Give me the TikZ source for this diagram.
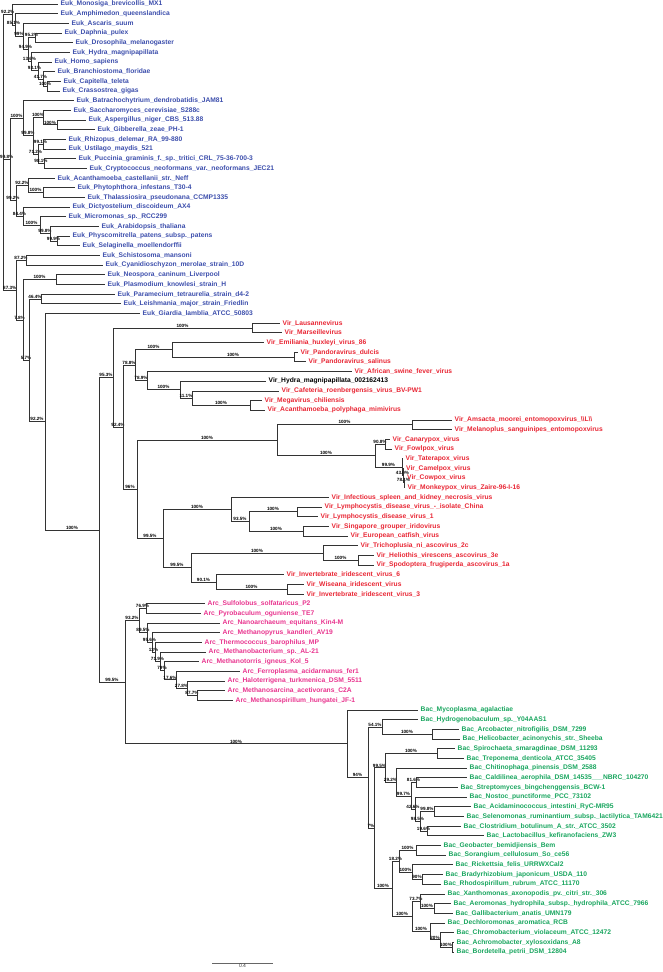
\documentclass[tikz,border=0pt]{standalone}
\usepackage{fontspec}
\setmainfont{Liberation Sans}
\usetikzlibrary{calc}
\definecolor{eukblue}{RGB}{60,78,172}
\definecolor{virred}{RGB}{232,38,52}
\definecolor{arcpink}{RGB}{232,52,142}
\definecolor{bacgreen}{RGB}{24,165,94}
\tikzset{
	branch/.style={line width=0.85pt, black!80},
	boot/.style={pos=0.75, above, inner sep=0.4pt, text=black, font=\fontsize{4.6}{5}\selectfont\bfseries},
	taxon/.style={anchor=west, inner xsep=2.5pt, inner ysep=0pt, font=\fontsize{6.7}{8}\selectfont\bfseries},
	euk/.style={taxon, text=eukblue},
	vir/.style={taxon, text=virred},
	arc/.style={taxon, text=arcpink},
	bac/.style={taxon, text=bacgreen},
	hydra/.style={taxon, text=black},
	scalebar/.style={line width=0.7pt, black!60}
}
% tip: name, row, x of branch end, style, label
\newcommand{\tip}[5]{\coordinate (#1) at (#3,{4+9.673*#2}); \node[#4] (#1t) at (#1) {#5};}
% clade: name, x, first child, last child
\newcommand{\clade}[4]{\path let \p1=(#3), \p2=(#4) in coordinate (#1) at (#2,{0.5*(\y1+\y2)});}

\begin{document}
\begin{tikzpicture}[x=1pt, y=-1pt]
\useasboundingbox (0,0) rectangle (663,972);
% Eukaryotes
\tip{e0}{0}{58}{euk}{Euk\_Monosiga\_brevicollis\_MX1}
\tip{e1}{1}{58}{euk}{Euk\_Amphimedon\_queenslandica}
\tip{e2}{2}{69}{euk}{Euk\_Ascaris\_suum}
\tip{e3}{3}{62}{euk}{Euk\_Daphnia\_pulex}
\tip{e4}{4}{73}{euk}{Euk\_Drosophila\_melanogaster}
\tip{e5}{5}{70}{euk}{Euk\_Hydra\_magnipapillata}
\tip{e6}{6}{52}{euk}{Euk\_Homo\_sapiens}
\tip{e7}{7}{55}{euk}{Euk\_Branchiostoma\_floridae}
\tip{e8}{8}{61}{euk}{Euk\_Capitella\_teleta}
\tip{e9}{9}{60}{euk}{Euk\_Crassostrea\_gigas}
\tip{e10}{10}{74}{euk}{Euk\_Batrachochytrium\_dendrobatidis\_JAM81}
\tip{e11}{11}{71}{euk}{Euk\_Saccharomyces\_cerevisiae\_S288c}
\tip{e12}{12}{86}{euk}{Euk\_Aspergillus\_niger\_CBS\_513.88}
\tip{e13}{13}{95}{euk}{Euk\_Gibberella\_zeae\_PH-1}
\tip{e14}{14}{66}{euk}{Euk\_Rhizopus\_delemar\_RA\_99-880}
\tip{e15}{15}{66}{euk}{Euk\_Ustilago\_maydis\_521}
\tip{e16}{16}{76}{euk}{Euk\_Puccinia\_graminis\_f.\_sp.\_tritici\_CRL\_75-36-700-3}
\tip{e17}{17}{87}{euk}{Euk\_Cryptococcus\_neoformans\_var.\_neoformans\_JEC21}
\tip{e18}{18}{55}{euk}{Euk\_Acanthamoeba\_castellanii\_str.\_Neff}
\tip{e19}{19}{75}{euk}{Euk\_Phytophthora\_infestans\_T30-4}
\tip{e20}{20}{85}{euk}{Euk\_Thalassiosira\_pseudonana\_CCMP1335}
\tip{e21}{21}{70}{euk}{Euk\_Dictyostelium\_discoideum\_AX4}
\tip{e22}{22}{66}{euk}{Euk\_Micromonas\_sp.\_RCC299}
\tip{e23}{23}{99}{euk}{Euk\_Arabidopsis\_thaliana}
\tip{e24}{24}{70}{euk}{Euk\_Physcomitrella\_patens\_subsp.\_patens}
\tip{e25}{25}{80}{euk}{Euk\_Selaginella\_moellendorffii}
\tip{e26}{26}{100}{euk}{Euk\_Schistosoma\_mansoni}
\tip{e27}{27}{103}{euk}{Euk\_Cyanidioschyzon\_merolae\_strain\_10D}
\tip{e28}{28}{105}{euk}{Euk\_Neospora\_caninum\_Liverpool}
\tip{e29}{29}{105}{euk}{Euk\_Plasmodium\_knowlesi\_strain\_H}
\tip{e30}{30}{115}{euk}{Euk\_Paramecium\_tetraurelia\_strain\_d4-2}
\tip{e31}{31}{121}{euk}{Euk\_Leishmania\_major\_strain\_Friedlin}
\tip{e32}{32}{140}{euk}{Euk\_Giardia\_lamblia\_ATCC\_50803}
% Viruses
\tip{v33}{33}{280}{vir}{Vir\_Lausannevirus}
\tip{v34}{34}{282}{vir}{Vir\_Marseillevirus}
\tip{v35}{35}{264}{vir}{Vir\_Emiliania\_huxleyi\_virus\_86}
\tip{v36}{36}{298}{vir}{Vir\_Pandoravirus\_dulcis}
\tip{v37}{37}{306}{vir}{Vir\_Pandoravirus\_salinus}
\tip{v38}{38}{352}{vir}{Vir\_African\_swine\_fever\_virus}
\tip{v39}{39}{266}{hydra}{Vir\_Hydra\_magnipapillata\_002162413}
\tip{v40}{40}{279}{vir}{Vir\_Cafeteria\_roenbergensis\_virus\_BV-PW1}
\tip{v41}{41}{262}{vir}{Vir\_Megavirus\_chiliensis}
\tip{v42}{42}{265}{vir}{Vir\_Acanthamoeba\_polyphaga\_mimivirus}
\tip{v43}{43}{452}{vir}{Vir\_Amsacta\_moorei\_entomopoxvirus\_\textbackslash\textbackslash L\textbackslash\textbackslash}
\tip{v44}{44}{452}{vir}{Vir\_Melanoplus\_sanguinipes\_entomopoxvirus}
\tip{v45}{45}{390}{vir}{Vir\_Canarypox\_virus}
\tip{v46}{46}{392}{vir}{Vir\_Fowlpox\_virus}
\tip{v47}{47}{403}{vir}{Vir\_Taterapox\_virus}
\tip{v48}{48}{403.5}{vir}{Vir\_Camelpox\_virus}
\tip{v49}{49}{404.5}{vir}{Vir\_Cowpox\_virus}
\tip{v50}{50}{405}{vir}{Vir\_Monkeypox\_virus\_Zaire-96-I-16}
\tip{v51}{51}{329}{vir}{Vir\_Infectious\_spleen\_and\_kidney\_necrosis\_virus}
\tip{v52}{52}{322}{vir}{Vir\_Lymphocystis\_disease\_virus\_-\_isolate\_China}
\tip{v53}{53}{318}{vir}{Vir\_Lymphocystis\_disease\_virus\_1}
\tip{v54}{54}{329}{vir}{Vir\_Singapore\_grouper\_iridovirus}
\tip{v55}{55}{348}{vir}{Vir\_European\_catfish\_virus}
\tip{v56}{56}{358}{vir}{Vir\_Trichoplusia\_ni\_ascovirus\_2c}
\tip{v57}{57}{374}{vir}{Vir\_Heliothis\_virescens\_ascovirus\_3e}
\tip{v58}{58}{374}{vir}{Vir\_Spodoptera\_frugiperda\_ascovirus\_1a}
\tip{v59}{59}{284}{vir}{Vir\_Invertebrate\_iridescent\_virus\_6}
\tip{v60}{60}{304}{vir}{Vir\_Wiseana\_iridescent\_virus}
\tip{v61}{61}{304}{vir}{Vir\_Invertebrate\_iridescent\_virus\_3}
% Archaea
\tip{a62}{62}{205}{arc}{Arc\_Sulfolobus\_solfataricus\_P2}
\tip{a63}{63}{201}{arc}{Arc\_Pyrobaculum\_oguniense\_TE7}
\tip{a64}{64}{220}{arc}{Arc\_Nanoarchaeum\_equitans\_Kin4-M}
\tip{a65}{65}{220}{arc}{Arc\_Methanopyrus\_kandleri\_AV19}
\tip{a66}{66}{202}{arc}{Arc\_Thermococcus\_barophilus\_MP}
\tip{a67}{67}{206}{arc}{Arc\_Methanobacterium\_sp.\_AL-21}
\tip{a68}{68}{199}{arc}{Arc\_Methanotorris\_igneus\_Kol\_5}
\tip{a69}{69}{240}{arc}{Arc\_Ferroplasma\_acidarmanus\_fer1}
\tip{a70}{70}{225}{arc}{Arc\_Haloterrigena\_turkmenica\_DSM\_5511}
\tip{a71}{71}{225}{arc}{Arc\_Methanosarcina\_acetivorans\_C2A}
\tip{a72}{72}{233}{arc}{Arc\_Methanospirillum\_hungatei\_JF-1}
% Bacteria
\tip{b73}{73}{418}{bac}{Bac\_Mycoplasma\_agalactiae}
\tip{b74}{74}{418}{bac}{Bac\_Hydrogenobaculum\_sp.\_Y04AAS1}
\tip{b75}{75}{459}{bac}{Bac\_Arcobacter\_nitrofigilis\_DSM\_7299}
\tip{b76}{76}{460}{bac}{Bac\_Helicobacter\_acinonychis\_str.\_Sheeba}
\tip{b77}{77}{455}{bac}{Bac\_Spirochaeta\_smaragdinae\_DSM\_11293}
\tip{b78}{78}{464}{bac}{Bac\_Treponema\_denticola\_ATCC\_35405}
\tip{b79}{79}{467}{bac}{Bac\_Chitinophaga\_pinensis\_DSM\_2588}
\tip{b80}{80}{467}{bac}{Bac\_Caldilinea\_aerophila\_DSM\_14535\_\_\_NBRC\_104270}
\tip{b81}{81}{458}{bac}{Bac\_Streptomyces\_bingchenggensis\_BCW-1}
\tip{b82}{82}{467}{bac}{Bac\_Nostoc\_punctiforme\_PCC\_73102}
\tip{b83}{83}{471}{bac}{Bac\_Acidaminococcus\_intestini\_RyC-MR95}
\tip{b84}{84}{464}{bac}{Bac\_Selenomonas\_ruminantium\_subsp.\_lactilytica\_TAM6421}
\tip{b85}{85}{461}{bac}{Bac\_Clostridium\_botulinum\_A\_str.\_ATCC\_3502}
\tip{b86}{86}{484}{bac}{Bac\_Lactobacillus\_kefiranofaciens\_ZW3}
\tip{b87}{87}{441}{bac}{Bac\_Geobacter\_bemidjiensis\_Bem}
\tip{b88}{88}{446}{bac}{Bac\_Sorangium\_cellulosum\_So\_ce56}
\tip{b89}{89}{453}{bac}{Bac\_Rickettsia\_felis\_URRWXCal2}
\tip{b90}{90}{443}{bac}{Bac\_Bradyrhizobium\_japonicum\_USDA\_110}
\tip{b91}{91}{441}{bac}{Bac\_Rhodospirillum\_rubrum\_ATCC\_11170}
\tip{b92}{92}{445}{bac}{Bac\_Xanthomonas\_axonopodis\_pv.\_citri\_str.\_306}
\tip{b93}{93}{451}{bac}{Bac\_Aeromonas\_hydrophila\_subsp.\_hydrophila\_ATCC\_7966}
\tip{b94}{94}{453}{bac}{Bac\_Gallibacterium\_anatis\_UMN179}
\tip{b95}{95}{445}{bac}{Bac\_Dechloromonas\_aromatica\_RCB}
\tip{b96}{96}{454}{bac}{Bac\_Chromobacterium\_violaceum\_ATCC\_12472}
\tip{b97}{97}{454}{bac}{Bac\_Achromobacter\_xylosoxidans\_A8}
\tip{b98}{98}{454}{bac}{Bac\_Bordetella\_petrii\_DSM\_12804}

% clades, from the tips down to the root
\clade{moll}{47}{e8}{e9}
\clade{met5}{43}{e7}{moll}
\clade{met4}{38}{e6}{met5}
\clade{met3}{31}{e5}{met4}
\clade{arth}{35}{e3}{e4}
\clade{met2}{28}{arth}{met3}
\clade{met}{23}{e2}{met2}
\clade{opi2}{15}{e1}{met}
\clade{opi}{12}{e0}{opi2}
\clade{pezi}{57}{e12}{e13}
\clade{asco}{43}{e11}{pezi}
\clade{rhus}{43}{e14}{e15}
\clade{pucc}{44}{e16}{e17}
\clade{basal}{38}{rhus}{pucc}
\clade{fun2}{33}{asco}{basal}
\clade{fun}{23}{e10}{fun2}
\clade{stram}{43}{e19}{e20}
\clade{sar}{28}{e18}{stram}
\clade{moss}{57}{e24}{e25}
\clade{land}{50}{e23}{moss}
\clade{green}{40}{e22}{land}
\clade{dicgr}{23}{e21}{green}
\clade{bik2}{16}{sar}{dicgr}
\clade{bik}{10}{fun}{bik2}
\clade{scy}{26}{e26}{e27}
\clade{api}{56}{e28}{e29}
\clade{cil}{41}{e30}{e31}

\clade{marse}{252}{v33}{v34}
\clade{pando2}{294}{v36}{v37}
\clade{pando}{172}{v35}{pando2}
\clade{mimi3}{250}{v41}{v42}
\clade{mimi2}{192}{v40}{mimi3}
\clade{mimi}{180}{v39}{mimi2}
\clade{asfv}{147}{v38}{mimi}
\clade{ncldv}{135}{pando}{asfv}
\clade{ento}{412}{v43}{v44}
\clade{avi}{385}{v45}{v46}
\clade{ortho3}{404}{v49}{v50}
\clade{ortho2}{403}{v48}{ortho3}
\clade{ortho1}{402}{v47}{ortho2}
\clade{chordo}{375}{avi}{ortho1}
\clade{poxv}{277}{ento}{chordo}
\clade{lcdv}{297}{v52}{v53}
\clade{ranav}{303}{v54}{v55}
\clade{irid2}{249}{lcdv}{ranav}
\clade{irid1}{231}{v51}{irid2}
\clade{ascov2}{358}{v57}{v58}
\clade{ascov}{323}{v56}{ascov2}
\clade{iiv2}{287}{v60}{v61}
\clade{iiv}{216}{v59}{iiv2}
\clade{ascirid}{191}{ascov}{iiv}
\clade{irid}{163}{irid1}{ascirid}
\clade{pox}{137}{poxv}{irid}
\clade{vir2}{123}{ncldv}{pox}
\clade{vir}{113}{marse}{vir2}

\clade{cren}{146}{a62}{a63}
\clade{arc9}{197}{a71}{a72}
\clade{arc8}{187}{a70}{arc9}
\clade{arc7}{176}{a69}{arc8}
\clade{arc6}{164}{a68}{arc7}
\clade{arc5}{160}{a67}{arc6}
\clade{arc4}{155}{a66}{arc5}
\clade{arc3}{152}{a65}{arc4}
\clade{arc2}{147}{a64}{arc3}
\clade{arc}{139}{cren}{arc2}

\clade{epsi}{432}{b75}{b76}
\clade{aqepsi}{382}{b74}{epsi}
\clade{spiro}{437}{b77}{b78}
\clade{chloro}{416}{b80}{b81}
\clade{negi}{434}{b83}{b84}
\clade{clos}{427}{b85}{b86}
\clade{firm}{420}{negi}{clos}
\clade{terra3}{415}{b82}{firm}
\clade{terra2}{411}{chloro}{terra3}
\clade{terra}{396}{b79}{terra2}
\clade{bac4}{385}{spiro}{terra}
\clade{delta}{416}{b87}{b88}
\clade{rhod}{422}{b90}{b91}
\clade{alpha}{412}{b89}{rhod}
\clade{delal}{399}{delta}{alpha}
\clade{aero}{434}{b93}{b94}
\clade{gamma}{420}{b92}{aero}
\clade{bord}{452}{b97}{b98}
\clade{beta2}{440}{b96}{bord}
\clade{beta}{430}{b95}{beta2}
\clade{gambe}{412}{gamma}{beta}
\clade{prot}{392}{delal}{gambe}
\clade{bac3}{374}{bac4}{prot}
\clade{bac2}{368}{aqepsi}{bac3}
\clade{bac}{347}{b73}{bac2}
\clade{prok}{125}{arc}{bac}
\clade{top}{99}{vir}{prok}
\clade{n922}{45}{e32}{top}
\clade{n57}{29}{cil}{n922}
\clade{n78}{23}{api}{n57}
\clade{exc}{16}{scy}{n78}
\clade{root}{3.5}{opi}{exc}

% supported branches
\foreach \p/\c/\s in {root/opi/92.2, opi/opi2/85.1, opi2/met/99, met/met2/94.9, met2/arth/95.2,
  met2/met3/13.6, met3/met4/93.1, met4/met5/41.7, met5/moll/100,
  root/bik/99.8, bik/fun/100, fun/fun2/99.8, fun2/asco/100, asco/pezi/100, fun2/basal/71.2,
  basal/rhus/99.1, basal/pucc/98.1, bik/bik2/99.2, bik2/sar/92.2, sar/stram/100, bik2/dicgr/84.4,
  dicgr/green/100, green/land/99.8, land/moss/99.9,
  root/exc/87.3, exc/scy/87.2, exc/n78/7.8, n78/api/100, n78/n57/5.7, n57/cil/46.4, n57/n922/92.2,
  n922/top/100,
  top/vir/95.3, vir/marse/100, vir/vir2/92.4, vir2/ncldv/78.8, ncldv/pando/100, pando/pando2/100,
  ncldv/asfv/78.9, asfv/mimi/100, mimi/mimi2/11.1, mimi2/mimi3/100, vir2/pox/96, pox/poxv/100,
  poxv/ento/100, poxv/chordo/100, chordo/avi/90.8, chordo/ortho1/99.9, ortho1/ortho2/43.0,
  ortho2/ortho3/78.1, pox/irid/99.5, irid/irid1/100, irid1/irid2/93.5, irid2/lcdv/100,
  irid2/ranav/100, irid/ascirid/99.5, ascirid/ascov/100, ascov/ascov2/100, ascirid/iiv/90.1,
  iiv/iiv2/100,
  top/prok/99.5, prok/arc/93.2, arc/cren/76.9, arc/arc2/89.5, arc2/arc3/95.6, arc3/arc4/13,
  arc4/arc5/71.9, arc5/arc6/79, arc6/arc7/17.6, arc7/arc8/27.8, arc8/arc9/87.7,
  prok/bac/100, bac/bac2/94, bac2/aqepsi/54.1, aqepsi/epsi/100, bac2/bac3/7, bac3/bac4/99.5,
  bac4/spiro/100, bac4/terra/29.2, terra/terra2/99.7, terra2/chloro/81.6, terra2/terra3/42.6,
  terra3/firm/98.5, firm/negi/99.8, firm/clos/19.6, bac3/prot/100, prot/delal/18.2,
  delal/delta/100, delal/alpha/100, alpha/rhod/90, prot/gambe/100, gambe/gamma/73.7,
  gamma/aero/100, gambe/beta/100, beta/beta2/20, beta2/bord/100}
  \draw[branch] (\p) |- node[boot] {\s\%} (\c);

% branches to the taxa
\foreach \p/\c in {opi/e0, opi2/e1, met/e2, arth/e3, arth/e4, met3/e5, met4/e6, met5/e7, moll/e8,
  moll/e9, fun/e10, asco/e11, pezi/e12, pezi/e13, rhus/e14, rhus/e15, pucc/e16, pucc/e17, sar/e18,
  stram/e19, stram/e20, dicgr/e21, green/e22, land/e23, moss/e24, moss/e25, scy/e26, scy/e27,
  api/e28, api/e29, cil/e30, cil/e31, n922/e32,
  marse/v33, marse/v34, pando/v35, pando2/v36, pando2/v37, asfv/v38, mimi/v39, mimi2/v40,
  mimi3/v41, mimi3/v42, ento/v43, ento/v44, avi/v45, avi/v46, ortho1/v47, ortho2/v48, ortho3/v49,
  ortho3/v50, irid1/v51, lcdv/v52, lcdv/v53, ranav/v54, ranav/v55, ascov/v56, ascov2/v57,
  ascov2/v58, iiv/v59, iiv2/v60, iiv2/v61,
  cren/a62, cren/a63, arc2/a64, arc3/a65, arc4/a66, arc5/a67, arc6/a68, arc7/a69, arc8/a70,
  arc9/a71, arc9/a72,
  bac/b73, aqepsi/b74, epsi/b75, epsi/b76, spiro/b77, spiro/b78, terra/b79, chloro/b80,
  chloro/b81, terra3/b82, negi/b83, negi/b84, clos/b85, clos/b86, delta/b87, delta/b88,
  alpha/b89, rhod/b90, rhod/b91, gamma/b92, aero/b93, aero/b94, beta/b95, beta2/b96, bord/b97,
  bord/b98}
  \draw[branch] (\p) |- (\c);

% scale bar
\coordinate (s0) at (212,963);
\coordinate (s1) at (273,963);
\draw[scalebar] (s0) -- node[below, inner sep=1pt, text=black!80, font=\fontsize{5}{6}\selectfont] {0.4} (s1);
\end{tikzpicture}
\end{document}
